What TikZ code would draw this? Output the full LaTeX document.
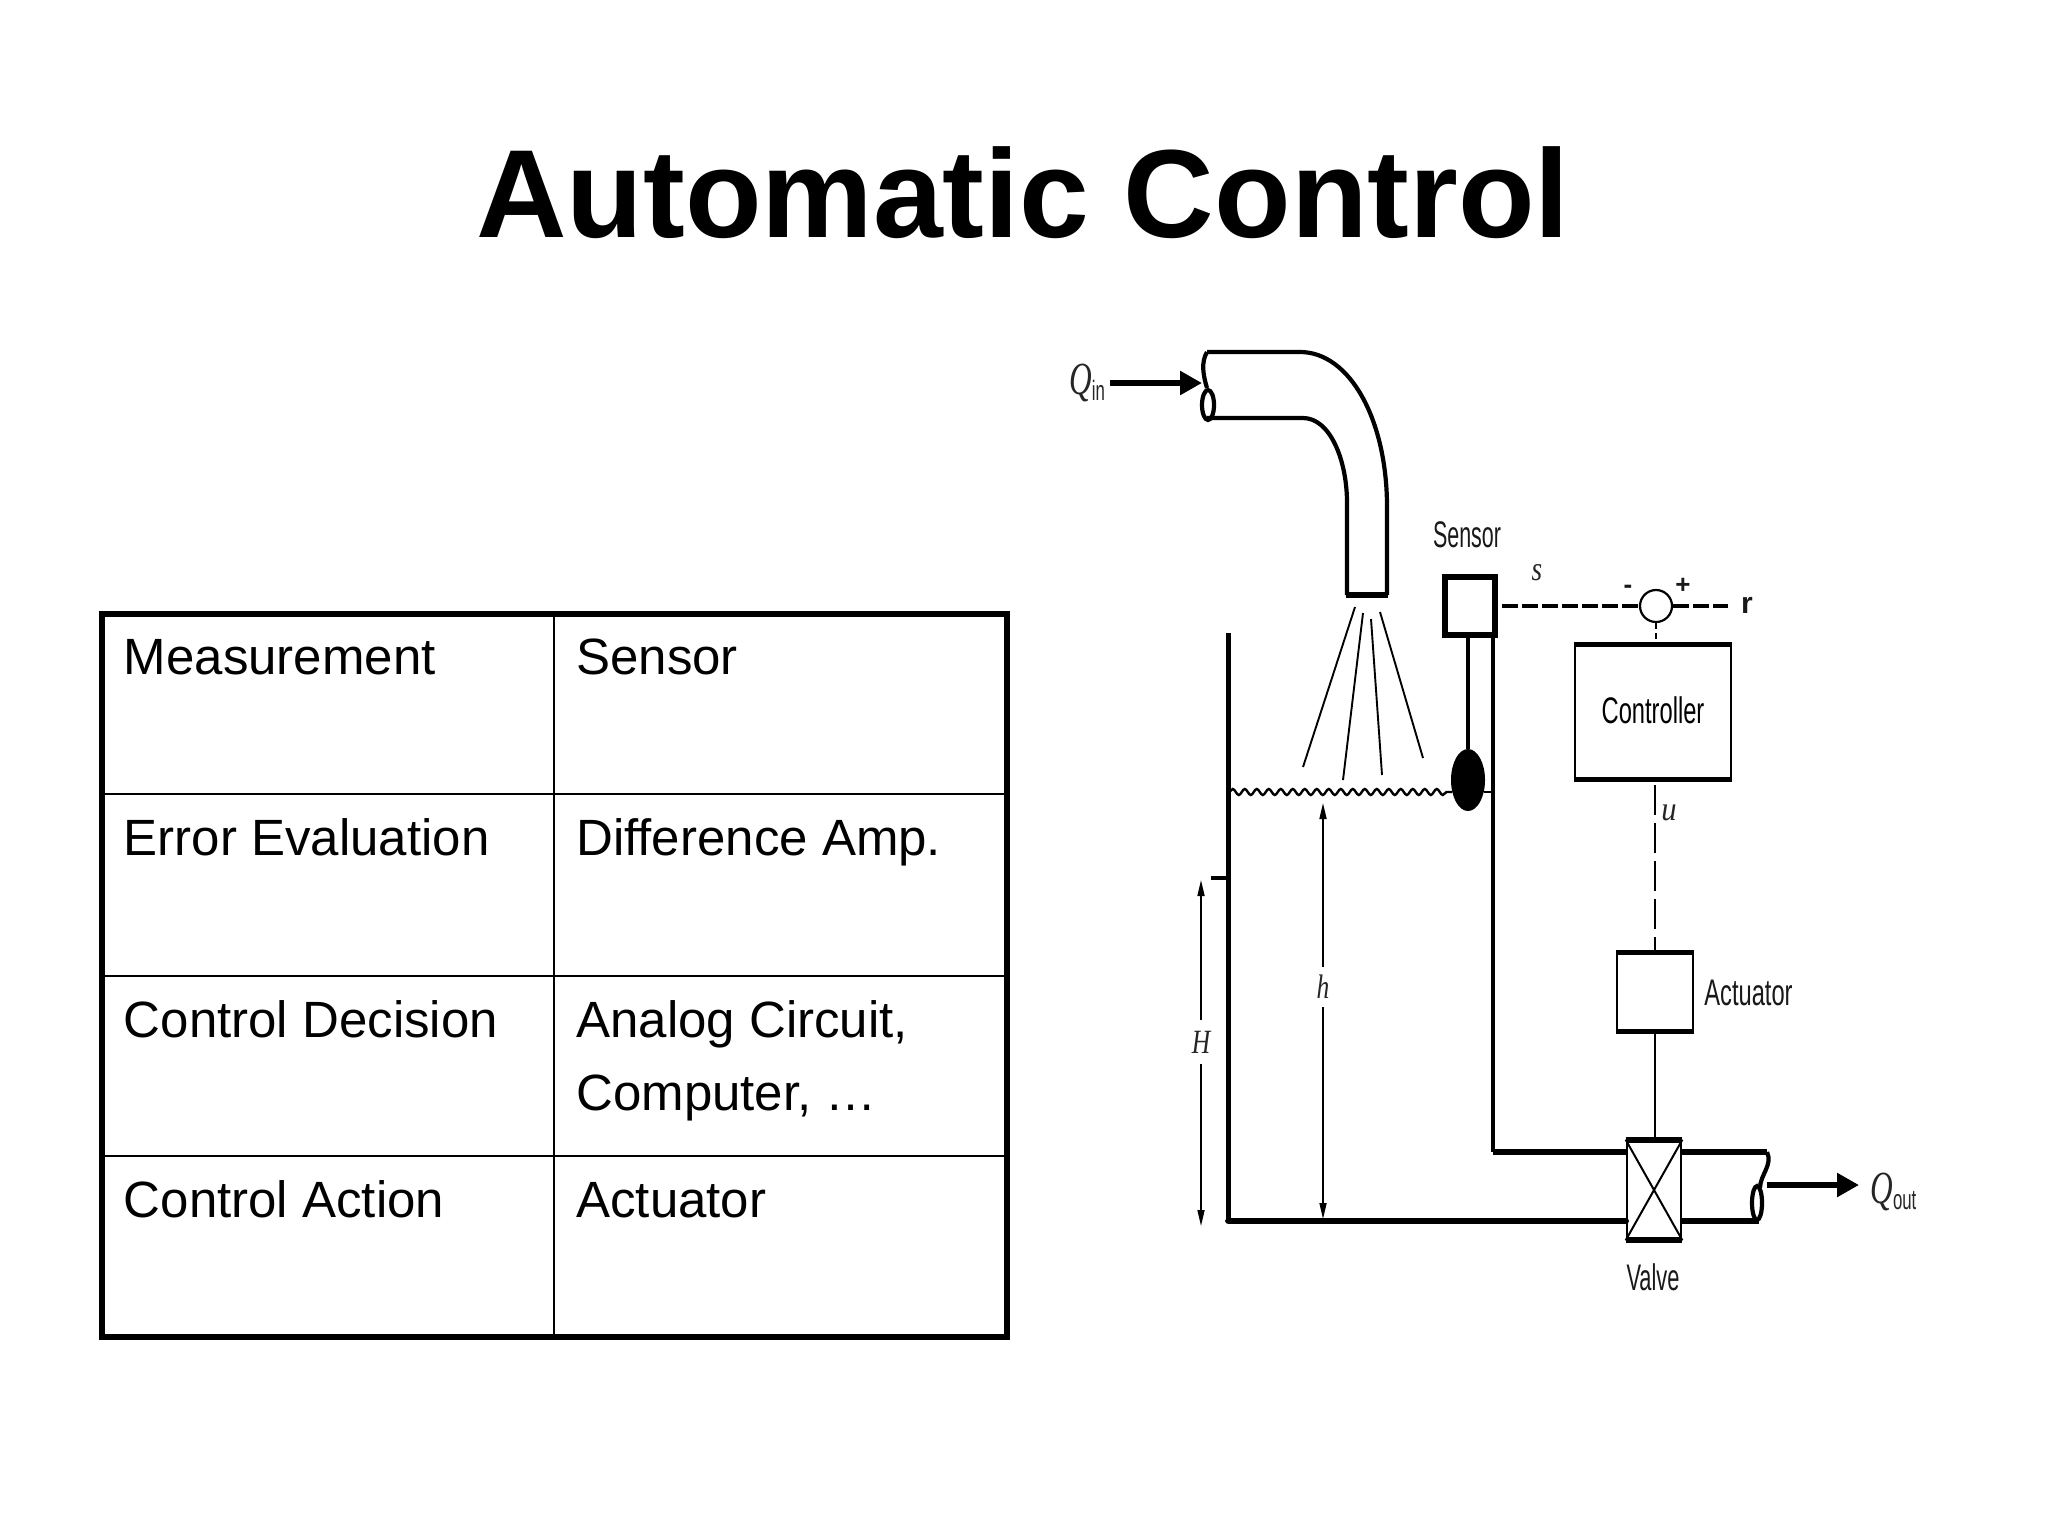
\documentclass[tikz,border=0pt]{standalone}
\usepackage{fontspec}
\setmainfont{Liberation Sans}
\newfontfamily\serifit{Liberation Serif}
\usetikzlibrary{arrows.meta,shapes.geometric,decorations.pathmorphing,calc}
\newcommand{\lab}[2]{\scalebox{#1}[1]{#2}}
\tikzset{
  titletext/.style={font=\fontsize{62.7}{70}\selectfont\bfseries,anchor=base,inner sep=0},
  celltext/.style={font=\fontsize{25.5}{30}\selectfont,anchor=base west,inner sep=0},
  difflabel/.style={font=\fontsize{18.5}{20}\selectfont,inner sep=0,text=black!90},
  mathlabel/.style={font=\fontsize{17}{20}\serifit\itshape\selectfont,inner sep=0,text=black!85},
  tableouter/.style={line width=2.8pt},
  tableinner/.style={line width=1.2pt},
  boxnode/.style={draw,rectangle,inner sep=0,line width=1.4pt},
  heavy/.style={line width=3.4pt},
  wallline/.style={line width=2.2pt},
  pipeline/.style={line width=2.1pt},
  flow/.style={line width=3.2pt,-{Triangle[length=11pt,width=11.5pt]}},
  dimtip/.style={line width=.8pt,-{Triangle[length=8pt,width=3.5pt]}},
  signal/.style={line width=1.7pt,dash pattern=on 8pt off 2pt},
  spray/.style={line width=.95pt},
}
\begin{document}
\begin{tikzpicture}[x=.5pt,y=-.5pt]
\useasboundingbox (0,0) rectangle (2048,1536);
\fill[white] (0,0) rectangle (2048,1536);
% title
\node[titletext] (title) at (1023,237) {Automatic Control};
% table
\draw[tableinner] (102,794)--(1007,794) (102,976)--(1007,976) (102,1156)--(1007,1156) (554,614)--(554,1337);
\draw[tableouter] (102,614) rectangle (1007,1337);
\node[celltext] (m1) at (123.5,674) {Measurement};
\node[celltext] (m2) at (576,674) {Sensor};
\node[celltext] (e1) at (123.5,855) {Error Evaluation};
\node[celltext] (e2) at (576,855) {Difference Amp.};
\node[celltext] (d1) at (123.5,1037) {Control Decision};
\node[celltext] (d2) at (576,1037) {Analog Circuit,};
\node[celltext] (d3) at (576,1110) {Computer, …};
\node[celltext] (a1) at (123.5,1217) {Control Action};
\node[celltext] (a2) at (576,1217) {Actuator};
% inlet pipe
\draw[pipeline] (1207,352)--(1300,352) .. controls (1350,352) and (1387,420) .. (1387,507) -- (1387,595);
\draw[pipeline] (1207,418)--(1303,418) .. controls (1330,418) and (1347,460) .. (1347,503) -- (1347,595);
\draw[wallline,line width=2.6pt] (1346,595)--(1388,595);
\draw[pipeline] (1207,352) .. controls (1201,362) and (1203,375) .. (1207,388);
\draw[pipeline] (1208,405) ellipse [x radius=6,y radius=15];
\coordinate (pipein) at (1202,383);
\node[mathlabel] (qin) at (1087,383) {\lab{.68}{\fontsize{23}{24}\selectfont Q}\raisebox{-3pt}{\lab{.6}{\fontsize{14}{15}\normalfont\selectfont in}}};
\draw[flow] (qin.east) ++(5,0) coordinate (qins) (qins) -- (pipein);
% spray
\draw[spray] (1355,607)--(1303,767) (1363,613)--(1343,780) (1371,619)--(1382,775) (1380,612)--(1423,758);
% valve (placed first so pipes can end on it)
\node[boxnode,minimum width=27pt,minimum height=49pt] (valve) at (1654,1190) {};
\draw[line width=3pt] (valve.north west)--(valve.north east) (valve.south west)--(valve.south east);
\draw[line width=1pt] (valve.north west)--(valve.south east) (valve.north east)--(valve.south west);
\node[difflabel] (vlab) at (1653,1277) {\lab{.59}{Valve}};
% tank walls
\coordinate (wallbl) at (1228.5,1221);
\coordinate (wallbr) at (1493,1152);
\draw[wallline] (1228.5,633)--(wallbl);
\draw[heavy,line cap=round] (wallbl)--(wallbl-|valve.west);
\draw[wallline] (1211,878)--(1228.5,878);
% sensor
\node[boxnode,line width=3.4pt,minimum width=25pt,minimum height=29pt] (sensor) at (1470,606) {};
\node[difflabel] (sensorlab) at (1467,535) {\lab{.58}{Sensor}};
\node[ellipse,fill=black,inner sep=0,minimum width=17pt,minimum height=31pt] (ball) at (1468,780) {};
\draw[line width=2pt] (sensor.south-|ball) -- (ball.north);
\draw[wallline] (sensor.south-|wallbr) -- (wallbr);
\draw[heavy] (wallbr)--(wallbr-|valve.west);
% water surface
\draw[line width=1.2pt,decorate,decoration={snake,segment length=6pt,amplitude=1.5pt}] (1229,792)--(1452,792);
\draw[line width=1.2pt] (1484,792)--(1493,792);
% dimensions
\coordinate (htop) at (1323,803);
\coordinate (hbot) at (1323,1219);
\node[mathlabel] (hl) at (1323,987) {\lab{.75}{h}};
\draw[dimtip] (hl.north) ++(0,-8) -- (htop);
\draw[dimtip] (hl.south) ++(0,8) -- (hbot);
\coordinate (Htop) at (1201,880);
\coordinate (Hbot) at (1201,1226);
\node[mathlabel] (Hl) at (1201,1042) {\lab{.75}{H}};
\draw[dimtip] (Hl.north) ++(0,-10) -- (Htop);
\draw[dimtip] (Hl.south) ++(0,10) -- (Hbot);
% summing junction
\node[circle,draw,line width=1.1pt,inner sep=0,minimum size=16pt] (sum) at (1656,606) {};
\node[difflabel,font=\fontsize{13}{16}\bfseries\selectfont] (minus) at (1628,589) {-};
\node[difflabel,font=\fontsize{13}{16}\bfseries\selectfont] (plus) at (1683,586) {+};
\node[mathlabel] (sl) at (1537,573) {\lab{.8}{s}};
\node[difflabel,font=\fontsize{15}{18}\bfseries\selectfont] (rl) at (1747,605) {r};
\coordinate (rend) at (1728,606);
\draw[signal] (sensor.east) ++(4,0) -- (sum.west);
\draw[signal] (sum.east) -- (rend);
% controller
\node[boxnode,minimum width=78pt,minimum height=66pt] (ctrl) at (1653,712) {\lab{.64}{\fontsize{18.5}{20}\selectfont\raisebox{2pt}{Controller}}};
\draw[line width=2.5pt] (ctrl.north west)--(ctrl.north east) (ctrl.south west)--(ctrl.south east);
\draw[line width=1.4pt,dash pattern=on 3pt off 2pt] (sum.south) -- (sum.south|-ctrl.north);
% actuator
\node[boxnode,minimum width=38pt,minimum height=38pt] (act) at (1655,992) {};
\draw[line width=2.5pt] (act.north west)--(act.north east) (act.south west)--(act.south east);
\node[difflabel,anchor=west] (actlab) at (1704,993) {\lab{.64}{Actuator}};
\draw[line width=1pt,dash pattern=on 15pt off 4pt] (1655,785) coordinate (ustart) -- (ustart|-act.north);
\node[mathlabel] (ul) at (1669,813) {\lab{.9}{u}};
\draw[line width=1pt] (act.south) -- (act.south|-valve.north);
% outlet pipe
\coordinate (ptop) at (1767,1152);
\coordinate (pbot) at (1759,1221);
\draw[heavy] (ptop-|valve.east)--(ptop);
\draw[heavy] (pbot-|valve.east)--(pbot);
\draw[pipeline] (ptop) .. controls (1773,1165) and (1760,1175) .. (1760,1188);
\draw[pipeline] (1757,1203) ellipse [x radius=5,y radius=17];
\coordinate (pipeout) at (1767,1185);
\node[mathlabel,anchor=west] (qout) at (1870,1192) {\lab{.68}{\fontsize{23}{24}\selectfont Q}\raisebox{-3pt}{\lab{.6}{\fontsize{14}{15}\normalfont\selectfont out}}};
\draw[flow] (pipeout) -- ($(pipeout-|qout.west)+(-11,0)$);
\end{tikzpicture}
\end{document}
